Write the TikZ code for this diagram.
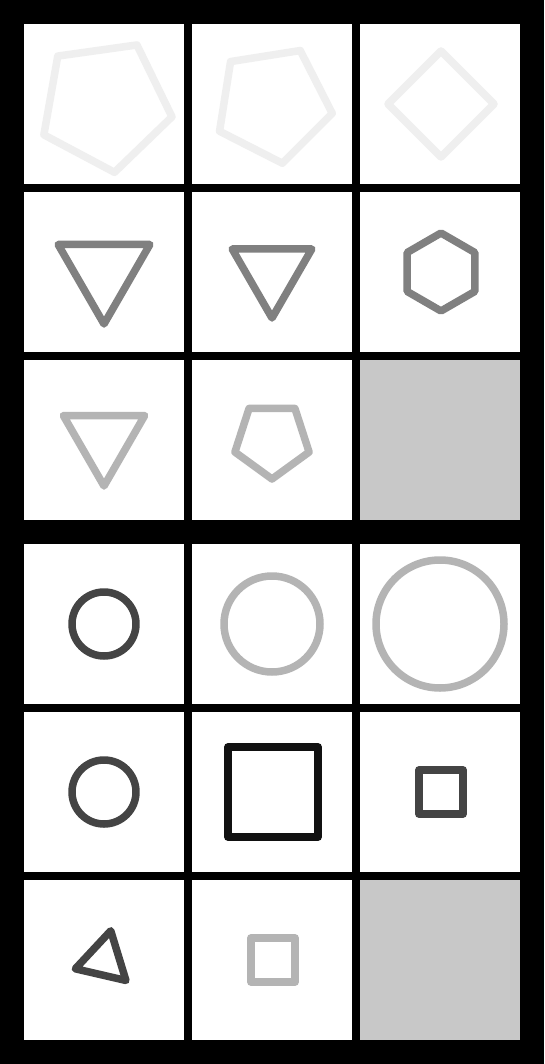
\documentclass[tikz,border=0pt]{standalone}
\usepackage{xcolor}
\usepackage{tikz}
\definecolor{ShapePale}{RGB}{239, 239, 239}
\definecolor{ShapeMid}{RGB}{128, 128, 128}
\definecolor{ShapeLight}{RGB}{180, 180, 180}
\definecolor{ShapeDark}{RGB}{68, 68, 68}
\definecolor{ShapeInk}{RGB}{17, 17, 17}
\definecolor{CellEmpty}{RGB}{200, 200, 200}

\begin{document}
\begin{tikzpicture}[x=1pt, y=1pt, outline/.style={line width=7.5pt, line join=round, line cap=round}]
    % frame and cells
    \fill[black] (0,0) rectangle (544,-1064);
    \foreach \cy in {24,192,360,544,712,880}
      \foreach \cx in {24,192,360}
        \fill[white] (\cx,-\cy) rectangle ++(160,-160);
    \fill[CellEmpty] (360,-360) rectangle ++(160,-160);
    \fill[CellEmpty] (360,-880) rectangle ++(160,-160);

    % upper block
    \draw[outline, ShapePale, shift={(105,-105)}] (62:68) \foreach \k in {1,...,4} {-- ({62-72*\k}:68)} -- cycle;
    \draw[outline, ShapePale, shift={(273,-104)}] (63:60) \foreach \k in {1,...,4} {-- ({63-72*\k}:60)} -- cycle;
    \draw[outline, ShapePale, shift={(441,-104)}] (90:53) \foreach \k in {1,...,3} {-- ({90-90*\k}:53)} -- cycle;
    \draw[outline, ShapeMid, shift={(104,-271)}] (-90:53) \foreach \k in {1,2} {-- ({-90+120*\k}:53)} -- cycle;
    \draw[outline, ShapeMid, shift={(272,-272)}] (-90:46) \foreach \k in {1,2} {-- ({-90+120*\k}:46)} -- cycle;
    \draw[outline, ShapeMid, shift={(441,-272)}] (90:39) \foreach \k in {1,...,5} {-- ({90+60*\k}:39)} -- cycle;
    \draw[outline, ShapeLight, shift={(104,-439)}] (-90:47) \foreach \k in {1,2} {-- ({-90+120*\k}:47)} -- cycle;
    \draw[outline, ShapeLight, shift={(272,-440)}] (-90:39) \foreach \k in {1,...,4} {-- ({-90+72*\k}:39)} -- cycle;

    % lower block
    \draw[outline, ShapeDark] (104,-624) circle (32);
    \draw[outline, ShapeLight] (272,-624) circle (48);
    \draw[outline, ShapeLight] (440,-624) circle (64);
    \draw[outline, ShapeDark] (104,-792) circle (32);
    \draw[outline, ShapeInk] (228,-747) rectangle (318,-837);
    \draw[outline, ShapeDark] (419,-770) rectangle (463,-814);
    \draw[outline, ShapeDark, shift={(104,-960)}] (77:30) \foreach \k in {1,2} {-- ({77+120*\k}:30)} -- cycle;
    \draw[outline, ShapeLight] (251,-938) rectangle (295,-982);
\end{tikzpicture}
\end{document}
